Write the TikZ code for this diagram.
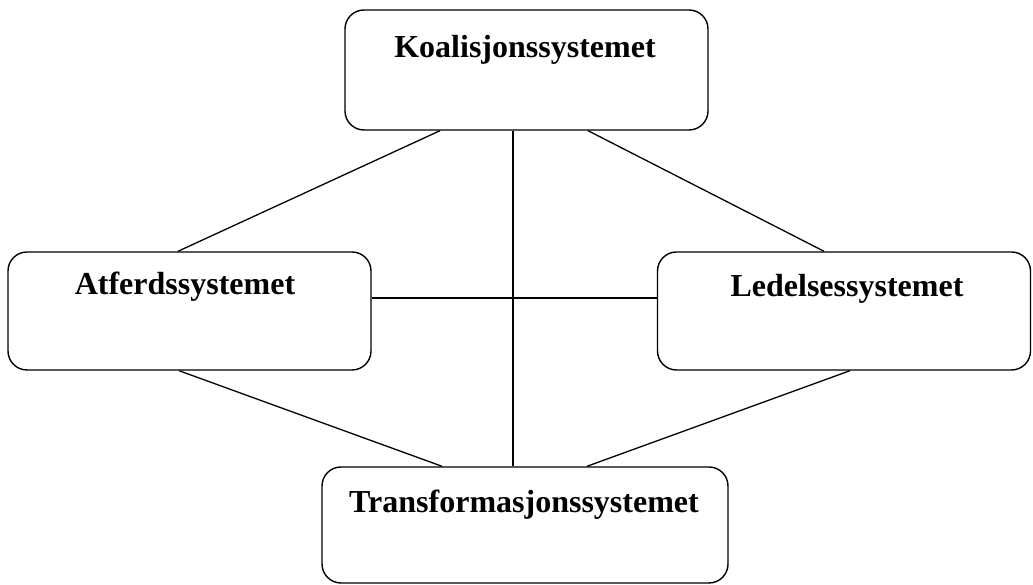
\documentclass[tikz,border=0pt]{standalone}
\usepackage{fontspec}
\setmainfont{Liberation Serif}
\begin{document}
\begin{tikzpicture}[x=1pt,y=1pt,
  sysbox/.style={draw=black,line width=1.4pt,rounded corners=19pt,inner sep=0pt},
  systext/.style={font=\fontsize{32}{38}\selectfont\bfseries,anchor=base,inner sep=0pt},
  link/.style={draw=black,line width=1.3pt}]
\useasboundingbox (0,0) rectangle (1033,585);
% boxes
\node[sysbox,minimum width=363pt,minimum height=120pt] (K) at (526.5,515) {};
\node[sysbox,minimum width=363pt,minimum height=118pt] (A) at (189.5,274) {};
\node[sysbox,minimum width=373pt,minimum height=118pt] (L) at (844,274) {};
\node[sysbox,minimum width=406pt,minimum height=116pt] (T) at (525,60) {};
% texts
\node[systext] (Kt) at (525,527) {Koalisjonssystemet};
\node[systext] (At) at (185,290) {Atferdssystemet};
\node[systext] (Lt) at (847,288) {Ledelsessystemet};
\node[systext] (Tt) at (524,72) {Transformasjonssystemet};
% connectors
\draw[link] (K.south -| 440,0) -- (A.north -| 178,0);
\draw[link] (K.south -| 588,0) -- (L.north -| 824,0);
\draw[link] (K.south -| 513,0) -- (T.north -| 513,0);
\draw[link] (A.east |- 0,287) -- (L.west |- 0,287);
\draw[link] (A.south -| 179,0) -- (T.north -| 442,0);
\draw[link] (L.south -| 850,0) -- (T.north -| 587,0);
\end{tikzpicture}
\end{document}
